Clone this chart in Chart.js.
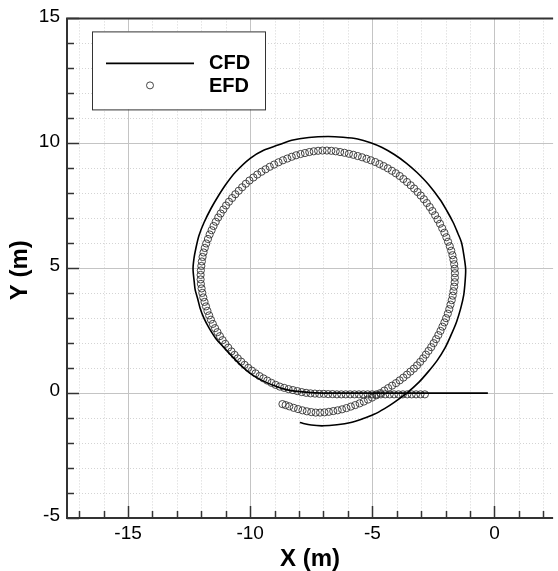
<!DOCTYPE html>
<html>
<head>
<meta charset="utf-8">
<script src="https://cdn.jsdelivr.net/npm/chart.js@4.4.0/dist/chart.umd.min.js"></script>
<style>
  html, body { margin: 0; padding: 0; background: #fff; }
  #wrap { width: 558px; height: 571px; }
</style>
</head>
<body>
<div id="wrap"><canvas id="traj" width="558" height="571"></canvas></div>
<script>
// CFD trajectory (x, y in m)
const cfdPoints = [
  [-0.27, 0], [-1, 0], [-2, 0], [-3, 0], [-4, 0], [-5, 0], [-6, 0], [-6.8, 0],
  [-7.5, 0.02], [-8.17, 0.08], [-8.6, 0.16], [-8.98, 0.28], [-9.5, 0.5], [-9.93, 0.74],
  [-10.35, 1.08], [-10.74, 1.47], [-11.1, 1.85], [-11.41, 2.19], [-11.68, 2.6], [-11.89, 2.99],
  [-12.05, 3.4], [-12.15, 3.78], [-12.25, 4.12], [-12.29, 4.44], [-12.34, 4.97], [-12.3, 5.4],
  [-12.23, 5.77], [-12.1, 6.3], [-11.89, 6.83], [-11.6, 7.4], [-11.3, 7.9], [-11.0, 8.35],
  [-10.6, 8.85], [-10.0, 9.4], [-9.45, 9.72], [-8.86, 9.93], [-8.3, 10.12], [-7.6, 10.23],
  [-6.82, 10.27], [-6.2, 10.24], [-5.6, 10.17], [-5.07, 10.02], [-4.6, 9.83], [-4.1, 9.55],
  [-3.6, 9.2], [-3.17, 8.83], [-2.7, 8.35], [-2.23, 7.75], [-1.95, 7.3], [-1.69, 6.83],
  [-1.5, 6.4], [-1.35, 6.03], [-1.25, 5.5], [-1.18, 4.97], [-1.2, 4.5], [-1.26, 3.92],
  [-1.38, 3.4], [-1.55, 2.86], [-1.78, 2.32], [-2.03, 1.8], [-2.35, 1.3], [-2.7, 0.87],
  [-3.1, 0.43], [-3.58, 0.01], [-4.12, -0.38], [-4.5, -0.62], [-4.93, -0.85], [-5.4, -1.03],
  [-5.88, -1.18], [-6.45, -1.27], [-7.02, -1.31], [-7.5, -1.28], [-7.97, -1.18]
];

// EFD measured positions (x, y in m)
const efdPoints = [
  // straight run along y = 0
  [-2.85, -0.05], [-3.03, -0.05], [-3.21, -0.05], [-3.39, -0.05], [-3.57, -0.05], [-3.75, -0.05],
  [-3.93, -0.05], [-4.11, -0.05], [-4.29, -0.05], [-4.47, -0.05], [-4.65, -0.05], [-4.83, -0.05],
  [-5.01, -0.05], [-5.19, -0.05], [-5.37, -0.05], [-5.55, -0.05], [-5.73, -0.05], [-5.91, -0.05],
  [-6.09, -0.05], [-6.27, -0.05], [-6.45, -0.05], [-6.63, -0.04], [-6.81, -0.04], [-6.99, -0.03],
  [-7.17, -0.03], [-7.35, -0.02], [-7.53, -0.01], [-7.71, 0.01], [-7.89, 0.04],
  // turning circle
  [-8.07, 0.08], [-8.25, 0.12], [-8.43, 0.16], [-8.61, 0.21], [-8.79, 0.26], [-8.96, 0.33],
  [-9.13, 0.41], [-9.3, 0.5], [-9.46, 0.59], [-9.62, 0.68], [-9.78, 0.79], [-9.93, 0.9],
  [-10.08, 1.01], [-10.23, 1.13], [-10.37, 1.26], [-10.51, 1.39], [-10.64, 1.53], [-10.77, 1.67],
  [-10.9, 1.82], [-11.02, 1.97], [-11.13, 2.12], [-11.24, 2.28], [-11.34, 2.44], [-11.44, 2.6],
  [-11.53, 2.77], [-11.61, 2.94], [-11.68, 3.11], [-11.75, 3.29], [-11.81, 3.47], [-11.87, 3.65],
  [-11.92, 3.83], [-11.96, 4.01], [-11.99, 4.19], [-12.02, 4.37], [-12.03, 4.55], [-12.03, 4.73],
  [-12.02, 4.91], [-12.0, 5.09], [-11.98, 5.27], [-11.95, 5.45], [-11.91, 5.63], [-11.86, 5.81],
  [-11.8, 5.99], [-11.73, 6.17], [-11.66, 6.35], [-11.58, 6.52], [-11.5, 6.69], [-11.41, 6.86],
  [-11.31, 7.03], [-11.21, 7.19], [-11.1, 7.35], [-10.99, 7.51], [-10.87, 7.66], [-10.74, 7.81],
  [-10.61, 7.96], [-10.47, 8.1], [-10.33, 8.24], [-10.18, 8.38], [-10.03, 8.51], [-9.87, 8.63],
  [-9.71, 8.75], [-9.54, 8.86], [-9.37, 8.96], [-9.2, 9.06], [-9.02, 9.15], [-8.84, 9.24],
  [-8.66, 9.32], [-8.48, 9.39], [-8.3, 9.46], [-8.12, 9.52], [-7.94, 9.57], [-7.76, 9.61],
  [-7.58, 9.65], [-7.4, 9.68], [-7.22, 9.7], [-7.04, 9.71], [-6.86, 9.71], [-6.68, 9.7],
  [-6.5, 9.68], [-6.32, 9.65], [-6.14, 9.62], [-5.96, 9.58], [-5.78, 9.54], [-5.6, 9.49],
  [-5.42, 9.44], [-5.24, 9.38], [-5.06, 9.32], [-4.88, 9.25], [-4.71, 9.17], [-4.54, 9.09],
  [-4.37, 9.0], [-4.2, 8.9], [-4.04, 8.8], [-3.88, 8.69], [-3.73, 8.57], [-3.58, 8.45],
  [-3.43, 8.32], [-3.29, 8.19], [-3.15, 8.05], [-3.02, 7.91], [-2.89, 7.76], [-2.77, 7.61],
  [-2.65, 7.45], [-2.54, 7.29], [-2.43, 7.12], [-2.33, 6.95], [-2.23, 6.78], [-2.14, 6.6],
  [-2.05, 6.42], [-1.97, 6.24], [-1.9, 6.06], [-1.83, 5.88], [-1.77, 5.7], [-1.72, 5.52],
  [-1.68, 5.34], [-1.65, 5.16], [-1.63, 4.98], [-1.62, 4.8], [-1.62, 4.62], [-1.63, 4.44],
  [-1.65, 4.26], [-1.68, 4.08], [-1.71, 3.9], [-1.75, 3.72], [-1.8, 3.54], [-1.85, 3.36],
  [-1.91, 3.18], [-1.98, 3.0], [-2.05, 2.83], [-2.13, 2.66], [-2.21, 2.49], [-2.3, 2.32],
  [-2.39, 2.16], [-2.49, 2.0], [-2.59, 1.84], [-2.7, 1.69], [-2.81, 1.54], [-2.92, 1.39],
  [-3.04, 1.25], [-3.17, 1.11], [-3.3, 0.98], [-3.44, 0.86], [-3.58, 0.74], [-3.73, 0.62],
  [-3.88, 0.51], [-4.03, 0.4], [-4.19, 0.3], [-4.35, 0.2], [-4.51, 0.1], [-4.67, 0.0],
  // second pass below y = 0
  [-4.84, -0.09], [-5.01, -0.18], [-5.18, -0.26], [-5.35, -0.34], [-5.52, -0.41], [-5.7, -0.48],
  [-5.88, -0.54], [-6.06, -0.6], [-6.24, -0.65], [-6.42, -0.69], [-6.6, -0.72], [-6.78, -0.75],
  [-6.96, -0.77], [-7.14, -0.78], [-7.32, -0.78], [-7.5, -0.76], [-7.68, -0.73], [-7.86, -0.69],
  [-8.04, -0.64], [-8.22, -0.59], [-8.4, -0.53], [-8.55, -0.48], [-8.68, -0.44]
];

const xTickValues = [-15, -10, -5, 0];
const yTickValues = [-5, 0, 5, 10, 15];
const seriesNames = ['CFD', 'EFD'];
const xTitle = 'X (m)';
const yTitle = 'Y (m)';

// grid, inward ticks, frame, axis titles and legend (Tecplot look)
const framePlugin = {
  id: 'frame',
  beforeDatasetsDraw(chart) {
    const { ctx, chartArea: a, scales: { x, y } } = chart;
    ctx.save();
    ctx.lineWidth = 1;
    // minor grid (dotted), every 1 m
    ctx.strokeStyle = '#d4d4d4';
    ctx.setLineDash([1, 2]);
    for (let v = -17; v <= 2; v++) {
      if (v % 5 === 0) continue;
      const px = Math.round(x.getPixelForValue(v)) + 0.5;
      ctx.beginPath(); ctx.moveTo(px, a.top); ctx.lineTo(px, a.bottom); ctx.stroke();
    }
    for (let v = -4; v <= 14; v++) {
      if (v % 5 === 0) continue;
      const py = Math.round(y.getPixelForValue(v)) + 0.5;
      ctx.beginPath(); ctx.moveTo(a.left, py); ctx.lineTo(a.right, py); ctx.stroke();
    }
    // major grid
    ctx.setLineDash([]);
    ctx.strokeStyle = '#c4c4c4';
    xTickValues.forEach(v => {
      const px = Math.round(x.getPixelForValue(v)) + 0.5;
      ctx.beginPath(); ctx.moveTo(px, a.top); ctx.lineTo(px, a.bottom); ctx.stroke();
    });
    yTickValues.forEach(v => {
      const py = Math.round(y.getPixelForValue(v)) + 0.5;
      ctx.beginPath(); ctx.moveTo(a.left, py); ctx.lineTo(a.right, py); ctx.stroke();
    });
    ctx.restore();
  },
  afterDatasetsDraw(chart) {
    const { ctx, chartArea: a, scales: { x, y } } = chart;
    ctx.save();
    // frame (right side is cut off in the original)
    ctx.strokeStyle = '#333';
    ctx.lineWidth = 2;
    ctx.beginPath();
    ctx.moveTo(a.right, a.top); ctx.lineTo(a.left, a.top);
    ctx.lineTo(a.left, a.bottom); ctx.lineTo(a.right, a.bottom);
    ctx.stroke();
    // inward ticks
    ctx.lineWidth = 1.5;
    for (let v = -17; v <= 2; v++) {
      const len = v % 5 === 0 ? 12 : 7;
      const px = Math.round(x.getPixelForValue(v)) + 0.5;
      ctx.beginPath(); ctx.moveTo(px, a.bottom); ctx.lineTo(px, a.bottom - len); ctx.stroke();
    }
    for (let v = -5; v <= 15; v++) {
      const len = v % 5 === 0 ? 12 : 7;
      const py = Math.round(y.getPixelForValue(v)) + 0.5;
      ctx.beginPath(); ctx.moveTo(a.left, py); ctx.lineTo(a.left + len, py); ctx.stroke();
    }
    // axis titles
    ctx.fillStyle = '#000';
    ctx.font = 'bold 24px "Liberation Sans", Arial, sans-serif';
    ctx.textAlign = 'center';
    ctx.textBaseline = 'alphabetic';
    ctx.fillText(xTitle, (a.left + a.right) / 2, 566);
    ctx.save();
    ctx.translate(27, (a.top + a.bottom) / 2 + 2);
    ctx.rotate(-Math.PI / 2);
    ctx.fillText(yTitle, 0, 0);
    ctx.restore();
    // legend box
    const lx = a.left + 25, ly = a.top + 13;
    ctx.fillStyle = '#fff';
    ctx.fillRect(lx, ly, 173, 78);
    ctx.strokeStyle = '#333';
    ctx.lineWidth = 1;
    ctx.strokeRect(lx + 0.5, ly + 0.5, 173, 78);
    ctx.strokeStyle = '#000';
    ctx.lineWidth = 1.6;
    ctx.beginPath(); ctx.moveTo(lx + 14, ly + 32); ctx.lineTo(lx + 102, ly + 32); ctx.stroke();
    ctx.strokeStyle = '#333';
    ctx.lineWidth = 0.9;
    ctx.beginPath(); ctx.arc(lx + 58, ly + 54, 3.5, 0, Math.PI * 2); ctx.stroke();
    ctx.fillStyle = '#000';
    ctx.font = 'bold 20px "Liberation Sans", Arial, sans-serif';
    ctx.textAlign = 'left';
    ctx.textBaseline = 'middle';
    ctx.fillText(seriesNames[0], lx + 117, ly + 32);
    ctx.fillText(seriesNames[1], lx + 117, ly + 55);
    ctx.restore();
  }
};

const trajChart = new Chart(document.getElementById('traj'), {
  type: 'scatter',
  data: {
    datasets: [
      {
        label: seriesNames[0],
        data: cfdPoints.map(p => ({ x: p[0], y: p[1] })),
        showLine: true,
        borderColor: '#000',
        borderWidth: 1.6,
        pointRadius: 0,
        tension: 0.3,
        fill: false
      },
      {
        label: seriesNames[1],
        data: efdPoints.map(p => ({ x: p[0], y: p[1] })),
        showLine: false,
        pointStyle: 'circle',
        pointRadius: 3.6,
        borderColor: '#333',
        borderWidth: 0.9,
        backgroundColor: 'rgba(0,0,0,0)'
      }
    ]
  },
  options: {
    responsive: false,
    animation: false,
    layout: { padding: { top: 14, left: 0, right: 0, bottom: 0 } },
    plugins: {
      legend: { display: false },
      tooltip: { enabled: false }
    },
    scales: {
      x: {
        type: 'linear',
        min: -17.5,
        max: 2.4,
        grid: { display: false, drawTicks: false },
        border: { display: false },
        ticks: { font: { family: '"Liberation Sans", Arial, sans-serif', size: 19 }, color: '#000', padding: 4 },
        afterBuildTicks: scale => { scale.ticks = xTickValues.map(v => ({ value: v })); },
        afterFit: scale => { scale.height = 53; }
      },
      y: {
        type: 'linear',
        min: -5,
        max: 15,
        grid: { display: false, drawTicks: false },
        border: { display: false },
        ticks: { font: { family: '"Liberation Sans", Arial, sans-serif', size: 19 }, color: '#000', padding: 7, labelOffset: -2 },
        afterBuildTicks: scale => { scale.ticks = yTickValues.map(v => ({ value: v })); },
        afterFit: scale => { scale.width = 67; }
      }
    }
  },
  plugins: [framePlugin]
});
</script>
</body>
</html>
